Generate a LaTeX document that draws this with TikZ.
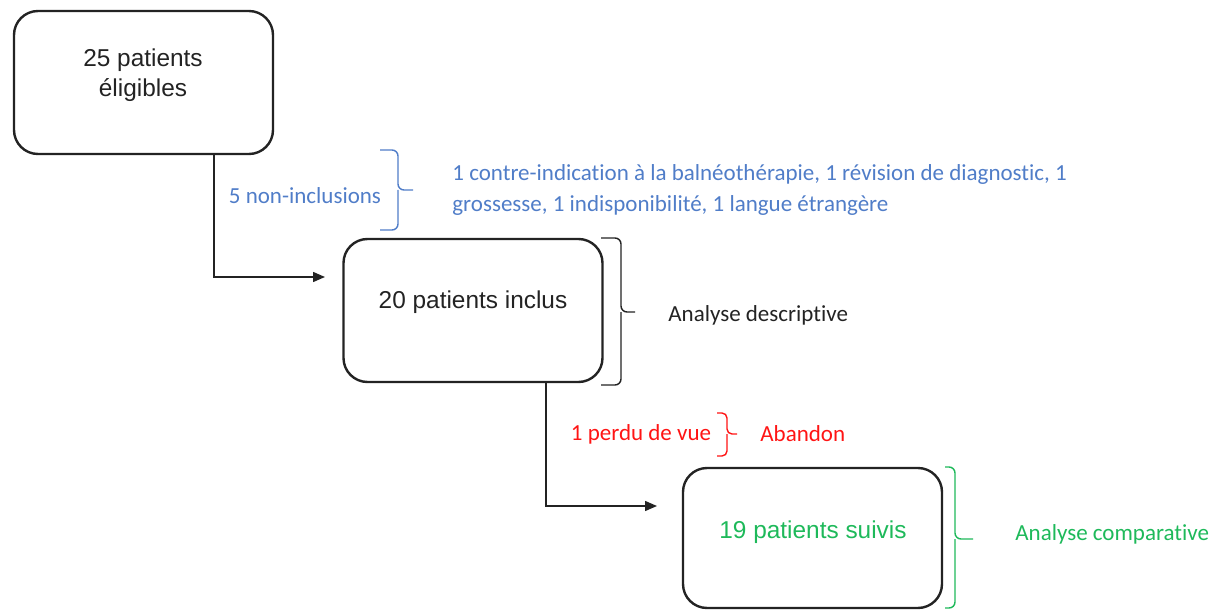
\documentclass[tikz,border=0pt]{standalone}
\usepackage{fontspec}
\setmainfont{Liberation Sans}
\newfontfamily\labfont[Ligatures=NoCommon]{Carlito}
\usetikzlibrary{arrows.meta}
\definecolor{ink}{RGB}{35,35,35}
\definecolor{bluetxt}{RGB}{80,125,200}
\definecolor{redtxt}{RGB}{255,20,20}
\definecolor{greentxt}{RGB}{30,185,90}
\tikzset{
  box/.style={draw=ink, line width=1.2pt, rounded corners=12pt, minimum width=129.5pt, minimum height=71.5pt, inner sep=0pt},
  boxtext/.style={font=\fontsize{12.2}{15}\selectfont, text=ink, align=center, inner sep=0pt},
  lab/.style={font=\labfont\fontsize{11.5}{15.5}\selectfont, inner sep=0pt},
  conn/.style={draw=ink, line width=0.75pt, -{Triangle[length=6pt,width=5pt]}},
  brace/.style={line width=0.7pt, rounded corners=3pt}
}
\begin{document}
\begin{tikzpicture}[x=0.5pt,y=-0.5pt]
\useasboundingbox (0,0) rectangle (1222,610);
% boxes
\node[box] (b1) at (143.5,82.5) {};
\node[box] (b2) at (473,310.5) {};
\node[box, minimum height=70pt] (b3) at (812.5,538) {};
\node[boxtext] (t1) at (143,75) {25 patients\\éligibles};
\node[boxtext] (t2) at (473,302) {20 patients inclus};
\node[boxtext, text=greentxt] (t3) at (813,532) {19 patients suivis};
% connectors
\coordinate (k1) at (214,0);
\coordinate (a1) at (325,277);
\coordinate (k2) at (546,0);
\coordinate (a2) at (657,506);
\draw[conn] (b1.south -| k1) |- (a1);
\draw[conn] (b2.south -| k2) |- (a2);
% blue brace and labels
\draw[brace, draw=bluetxt] (380,150) -| (398,190) -- (413,190);
\draw[brace, draw=bluetxt] (380,230) -| (398,190);
\node[lab, text=bluetxt] (n1) at (305,196) {5 non-inclusions};
\node[lab, text=bluetxt, anchor=west, align=left] (n2) at (452,190) {1 contre-indication à la balnéothérapie, 1 révision de diagnostic, 1\\grossesse, 1 indisponibilité, 1 langue étrangère};
% black brace
\draw[brace, draw=ink] (601,238) -| (621,312) -- (635,312);
\draw[brace, draw=ink] (601,385) -| (621,312);
\node[lab, text=ink] (n3) [anchor=west] at (668,315) {Analyse descriptive};
% red brace
\draw[brace, draw=redtxt, rounded corners=2.5pt] (717,413) -| (727,434) -- (737,434);
\draw[brace, draw=redtxt, rounded corners=2.5pt] (717,456) -| (727,434);
\node[lab, text=redtxt] (n4) at (641,434) {1 perdu de vue};
\node[lab, text=redtxt, anchor=west] (n5) at (760,434) {Abandon};
% green brace
\draw[brace, draw=greentxt] (945,467) -| (955,539) -- (973,539);
\draw[brace, draw=greentxt] (945,608) -| (955,539);
\node[lab, text=greentxt, anchor=west] (n6) at (1015,534) {Analyse comparative};
\end{tikzpicture}
\end{document}
